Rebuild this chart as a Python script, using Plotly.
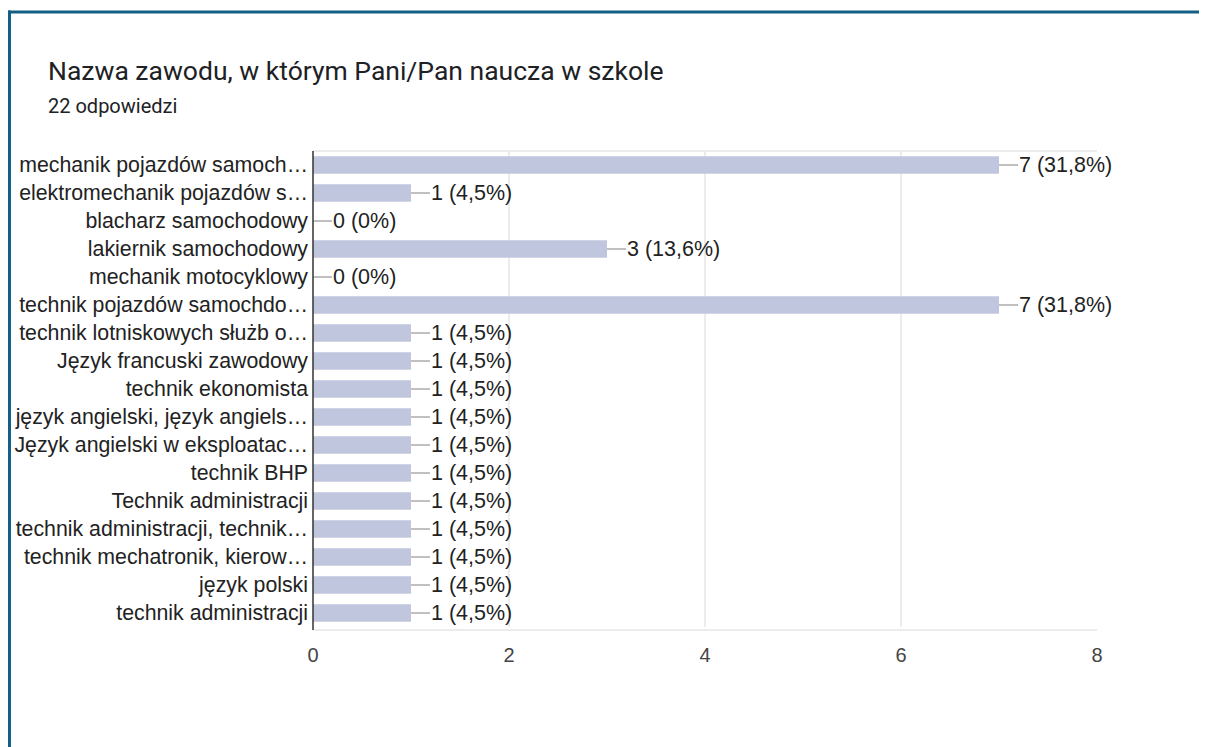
import plotly.graph_objects as go

categories = [
    "mechanik pojazdów samoch…",
    "elektromechanik pojazdów s…",
    "blacharz samochodowy",
    "lakiernik samochodowy",
    "mechanik motocyklowy",
    "technik pojazdów samochdo…",
    "technik lotniskowych służb o…",
    "Język francuski zawodowy",
    "technik ekonomista",
    "język angielski, język angiels…",
    "Język angielski w eksploatac…",
    "technik BHP",
    "Technik administracji",
    "technik administracji, technik…",
    "technik mechatronik, kierow…",
    "język polski",
    "technik administracji",
]
counts = [7, 1, 0, 3, 0, 7, 1, 1, 1, 1, 1, 1, 1, 1, 1, 1, 1]
labels = ["7 (31,8%)", "1 (4,5%)", "0 (0%)", "3 (13,6%)", "0 (0%)", "7 (31,8%)",
          "1 (4,5%)", "1 (4,5%)", "1 (4,5%)", "1 (4,5%)", "1 (4,5%)", "1 (4,5%)",
          "1 (4,5%)", "1 (4,5%)", "1 (4,5%)", "1 (4,5%)", "1 (4,5%)"]
x_ticks = [0, 2, 4, 6, 8]
title_text = "Nazwa zawodu, w którym Pani/Pan naucza w szkole"
subtitle_text = "22 odpowiedzi"

OFF = 8  # page body margin offset
W, H = 1207 - OFF, 747 - OFF
# target pixel positions in the screenshot
PL, PR, PT, PB = 313, 1097, 151, 627
L, T = PL - OFF, PT - OFF
R = W - (PR - OFF)
B = H - (PB - OFF)
pw, ph = W - L - R, H - T - B

def px_x(px):
    return (px - OFF - L) / pw

def px_y(py):
    return (H - B - (py - OFF)) / ph

ypos = list(range(len(categories)))

fig = go.Figure()
fig.add_trace(go.Bar(
    x=counts, y=ypos, orientation="h",
    marker=dict(color="#c0c6dd", line=dict(width=0)),
    width=0.62, hoverinfo="skip",
))

shapes = []
annotations = []
lead = 19 / pw * 8  # ~19px leader line in data units
for yv, v, lab in zip(ypos, counts, labels):
    shapes.append(dict(type="line", xref="x", yref="y", x0=v, x1=v + lead,
                       y0=yv, y1=yv, line=dict(color="#9e9e9e", width=1.3)))
    annotations.append(dict(x=v + lead, y=yv, xref="x", yref="y", text=lab,
                            showarrow=False, xanchor="left", yanchor="middle",
                            xshift=-1,
                            font=dict(family="Liberation Sans, Arial", size=21.5, color="#222222")))

# plot box lines (top & bottom)
shapes.append(dict(type="line", xref="paper", yref="paper", x0=0, x1=1, y0=1, y1=1,
                   line=dict(color="#ececec", width=2)))
shapes.append(dict(type="line", xref="paper", yref="paper", x0=0, x1=1, y0=px_y(630), y1=px_y(630),
                   line=dict(color="#ececec", width=2)))
# y axis line
shapes.append(dict(type="line", xref="paper", yref="paper", x0=0, x1=0, y0=px_y(630), y1=1,
                   line=dict(color="#333333", width=1.5)))
# outer frame (card border)
shapes.append(dict(type="line", xref="paper", yref="paper", x0=px_x(8), x1=px_x(1300),
                   y0=px_y(12), y1=px_y(12), line=dict(color="#135f86", width=3)))
shapes.append(dict(type="line", xref="paper", yref="paper", x0=px_x(9.5), x1=px_x(9.5),
                   y0=px_y(10.5), y1=px_y(800), line=dict(color="#135f86", width=3)))

annotations.append(dict(xref="paper", yref="paper", x=px_x(46), y=px_y(71), text=title_text,
                        showarrow=False, xanchor="left", yanchor="middle",
                        font=dict(family="Roboto", size=26.5, color="#202124")))
annotations.append(dict(xref="paper", yref="paper", x=px_x(46), y=px_y(106), text=subtitle_text,
                        showarrow=False, xanchor="left", yanchor="middle",
                        font=dict(family="Roboto", size=20, color="#202124")))

fig.update_layout(
    width=W, height=H,
    margin=dict(l=L, r=R, t=T, b=B, pad=0, autoexpand=False),
    paper_bgcolor="white", plot_bgcolor="white",
    showlegend=False,
    bargap=0.38,
    shapes=shapes,
    annotations=annotations,
    xaxis=dict(range=[0, 8], tickvals=x_ticks, ticktext=[str(t) for t in x_ticks],
               showgrid=True, gridcolor="#ececec", gridwidth=1.5, zeroline=False,
               showline=False, ticks="", ticklen=0, ticklabelstandoff=14, automargin=False,
               tickfont=dict(family="Liberation Sans, Arial", size=20, color="#444444")),
    yaxis=dict(range=[len(categories) - 0.5, -0.5], tickvals=ypos, ticktext=categories,
               showgrid=False, zeroline=False, showline=False, ticks="",
               ticklabelstandoff=4, automargin=False,
               tickfont=dict(family="Liberation Sans, Arial", size=21.3, color="#222222")),
)

fig.write_html("out.html")
